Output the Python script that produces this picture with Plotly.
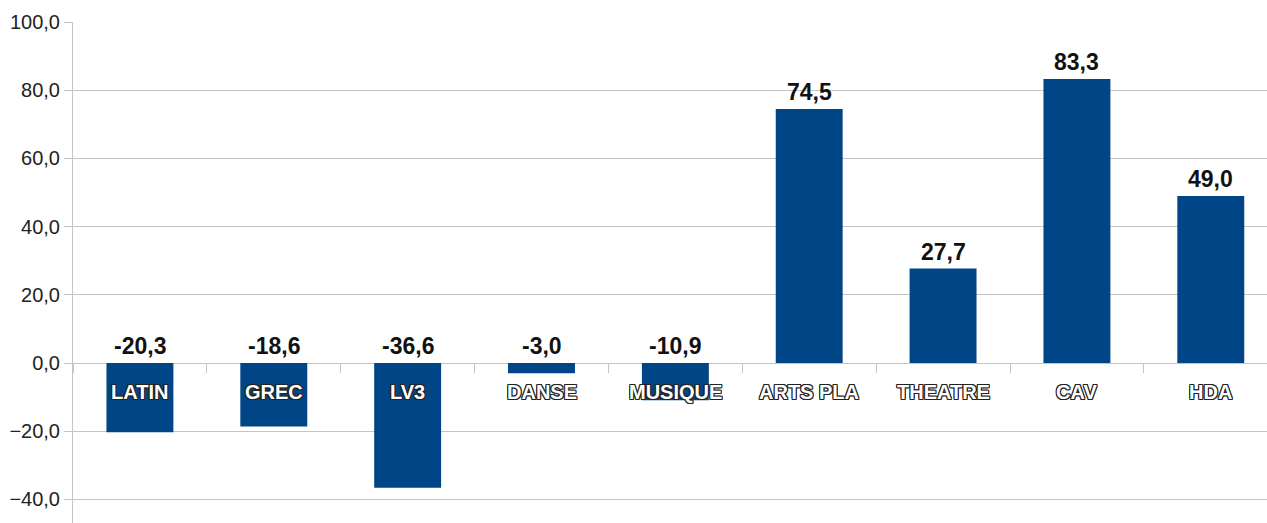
import plotly.graph_objects as go

categories = ["LATIN", "GREC", "LV3", "DANSE", "MUSIQUE", "ARTS PLA", "THEATRE", "CAV", "HDA"]
values = [-20.3, -18.6, -36.6, -3.0, -10.9, 74.5, 27.7, 83.3, 49.0]
y_ticks = [-40, -20, 0, 20, 40, 60, 80, 100]

Y_MIN, Y_MAX = -46.9, 100
GRID = "#c4c4c4"
BAR = "#004586"

fig = go.Figure()

fig.add_trace(go.Bar(
    x=categories,
    y=values,
    width=0.5,
    marker=dict(color=BAR, line=dict(width=0)),
    hoverinfo="skip",
))

# value labels above bar (or above zero line for negative bars)
for c, v in zip(categories, values):
    fig.add_annotation(
        x=c, y=max(v, 0), xref="x", yref="y",
        text=f"{v:.1f}".replace(".", ","),
        showarrow=False, yanchor="bottom", yshift=2,
        font=dict(family="Liberation Sans", size=23, color="#111111", weight="bold"),
    )

# category labels just below zero, white with dark outline
outline = ("-1px -1px 0 #222, 1px -1px 0 #222, -1px 1px 0 #222, 1px 1px 0 #222, "
           "0 -1px 0 #222, 0 1px 0 #222, -1px 0 0 #222, 1px 0 0 #222")
for c in categories:
    fig.add_annotation(
        x=c, y=0, xref="x", yref="y",
        text=c, showarrow=False, yanchor="middle", yshift=-29,
        font=dict(family="Liberation Sans", size=20, color="white",
                  weight="bold", shadow=outline),
    )

zero_pos = (0 - Y_MIN) / (Y_MAX - Y_MIN)

fig.update_layout(
    width=1267, height=523,
    margin=dict(l=73, r=0, t=22, b=0),
    paper_bgcolor="white", plot_bgcolor="white",
    separators=",.",
    showlegend=False,
    xaxis=dict(
        type="category",
        range=[-0.5, 8.42],
        showgrid=False, showline=False, zeroline=False,
        showticklabels=False, automargin=False,
        ticks="outside", tickson="boundaries", ticklen=9,
        tickcolor=GRID, tickwidth=1,
        anchor="free", position=zero_pos,
    ),
    yaxis=dict(
        range=[Y_MIN, Y_MAX], automargin=False,
        tickvals=y_ticks, tickformat=".1f",
        showgrid=True, gridcolor=GRID, gridwidth=1,
        zeroline=True, zerolinecolor=GRID, zerolinewidth=1,
        showline=True, linecolor=GRID, linewidth=1,
        ticks="outside", ticklen=8, tickcolor=GRID,
        tickfont=dict(family="Liberation Sans", size=20, color="#222222"),
    ),
)

# drop the default page margin so the figure sits at the window origin
fig.write_html(
    "out.html",
    config={"displayModeBar": False},
    post_script="document.body.style.margin='0';document.body.style.overflow='hidden';",
)
